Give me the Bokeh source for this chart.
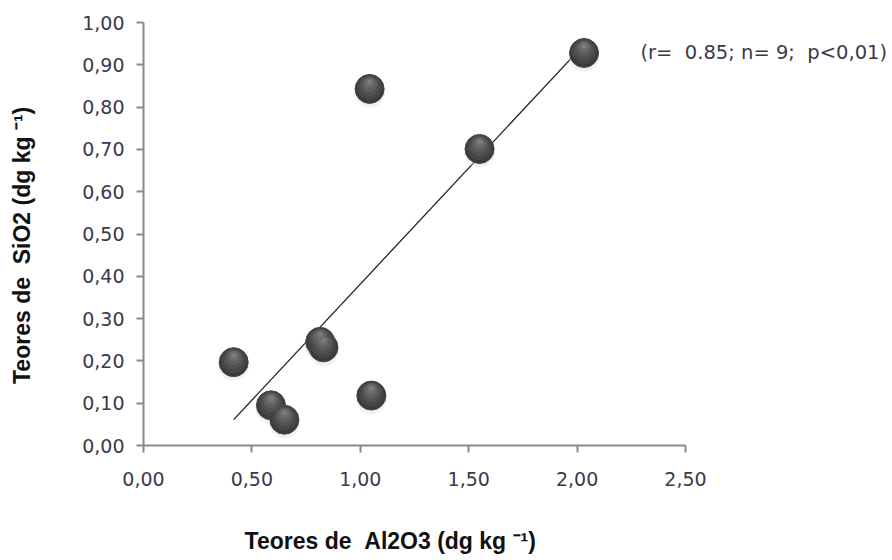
import numpy as np
from bokeh.plotting import figure
from bokeh.models import Range1d, FixedTicker, Label, ColumnDataSource
from bokeh.embed import file_html
from bokeh.resources import INLINE

NB = "\u00a0"
# Data
al2o3 = [0.416, 0.588, 0.650, 0.815, 0.830, 1.051, 1.043, 1.550, 2.032]
sio2 = [0.197, 0.095, 0.061, 0.245, 0.232, 0.118, 0.843, 0.701, 0.928]
x_ticks = [0.0, 0.5, 1.0, 1.5, 2.0, 2.5]
x_tick_labels = ["0,00", "0,50", "1,00", "1,50", "2,00", "2,50"]
y_ticks = [0.0, 0.1, 0.2, 0.3, 0.4, 0.5, 0.6, 0.7, 0.8, 0.9, 1.0]
y_tick_labels = ["0,00", "0,10", "0,20", "0,30", "0,40", "0,50",
                 "0,60", "0,70", "0,80", "0,90", "1,00"]
x_title = "Teores de " + NB + "Al2O3 (dg kg \u207b\u00b9)"
y_title = "Teores de " + NB + "SiO2 (dg kg \u207b\u00b9)"
stats_text = "(r= " + NB + "0.85; n= 9; " + NB + "p<0,01)"

W, H = 892, 560
LEFT, BOTTOM = 143, 115          # frame starts at x=143 and ends at y=445
AX_RIGHT_PX, AX_TOP_PX = 685, 22  # where x=2.5 and y=1.0 fall on the canvas
frame_w, frame_h = W - LEFT, H - BOTTOM
x_end = x_ticks[-1] * frame_w / (AX_RIGHT_PX - LEFT)
y_end = y_ticks[-1] * frame_h / (frame_h - AX_TOP_PX)

p = figure(width=W, height=H, output_backend="svg", toolbar_location=None,
           x_range=Range1d(0, x_end), y_range=Range1d(0, y_end),
           min_border_left=LEFT, min_border_right=0,
           min_border_top=0, min_border_bottom=BOTTOM)
p.outline_line_color = None
p.xgrid.visible = False
p.ygrid.visible = False
p.background_fill_color = "white"
p.border_fill_color = "white"

tick_font = "DejaVu Sans"
for ax, ticks, labels in ((p.xaxis, x_ticks, x_tick_labels), (p.yaxis, y_ticks, y_tick_labels)):
    ax.ticker = FixedTicker(ticks=ticks)
    ax.bounds = (ticks[0], ticks[-1])
    ax.major_label_overrides = {t: l for t, l in zip(ticks, labels)}
    ax.axis_line_color = "#8a8a8a"
    ax.axis_line_width = 2
    ax.major_tick_line_color = "#8a8a8a"
    ax.major_tick_line_width = 2
    ax.major_tick_out = 7
    ax.major_tick_in = 0
    ax.minor_tick_line_color = None
    ax.major_label_text_font = tick_font
    ax.major_label_text_font_size = "19px"
    ax.major_label_text_color = "#3a3a4a"
    ax.axis_label_text_font = "Liberation Sans"
    ax.axis_label_text_font_style = "bold"
    ax.axis_label_text_font_size = "23px"
    ax.axis_label_text_color = "#111111"
p.xaxis.major_label_standoff = 19
p.yaxis.major_label_standoff = 12

# axis titles; trailing no-break spaces shift the frame-centred label to the reference position
p.xaxis.axis_label = x_title + NB * 40
p.xaxis.axis_label_standoff = 39
p.yaxis.axis_label = y_title + NB * 7
p.yaxis.axis_label_standoff = 44

# regression line over the data extent
xs = np.array(al2o3)
ys = np.array(sio2)
slope, intercept = np.polyfit(xs, ys, 1)
lx = np.array([xs.min(), xs.max()])
p.line(lx, slope * lx + intercept, line_color="#222222", line_width=1.3)

# sphere-like markers: shadow, body, highlight layers
dy = y_end / frame_h  # data units per pixel (y)
src = ColumnDataSource(dict(x=xs, y=ys))
p.scatter(x=xs, y=ys - 3 * dy, size=31, fill_color="#dddddd", fill_alpha=0.4, line_color=None)
p.scatter(x="x", y="y", source=src, size=29, fill_color="#3a3a3a", line_color="#484848", line_width=1)
layers = [(25, "#464646", 1.5), (20, "#515151", 3), (15, "#5e5e5e", 4.5), (10, "#6c6c6c", 6), (5, "#7c7c7c", 7)]
for s, c, off in layers:
    p.scatter(x=xs, y=ys + off * dy, size=s, fill_color=c, line_color=None)

# statistics annotation (screen units relative to the frame's bottom-left)
p.add_layout(Label(x=640 - LEFT, y=frame_h - 52, x_units="screen", y_units="screen",
                   text=stats_text, text_font="DejaVu Sans", text_font_size="19.5px",
                   text_color="#3a3a4a", text_baseline="middle", text_align="left"))

open("out.html", "w").write(file_html(p, INLINE))
